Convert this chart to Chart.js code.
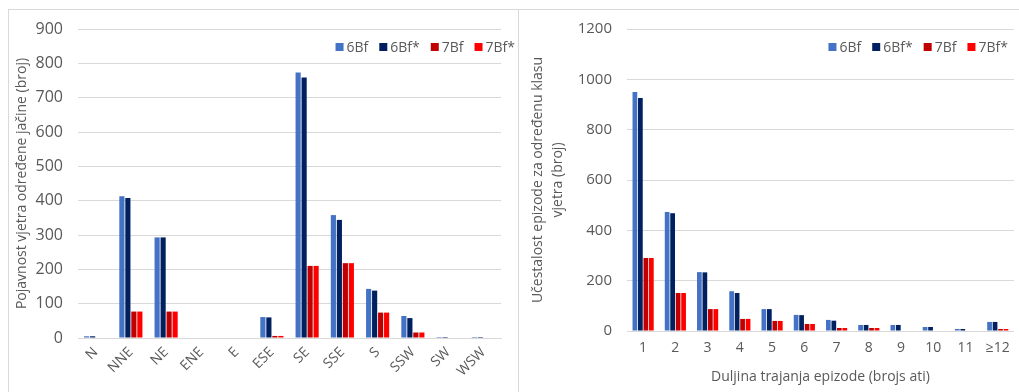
<!DOCTYPE html>
<html>
<head>
<meta charset="utf-8">
<script src="https://cdn.jsdelivr.net/npm/chart.js@4.4.0/dist/chart.umd.min.js"></script>
<style>
  body { margin: 0; background: #fff; width: 1019px; height: 392px; overflow: hidden; position: relative; }
  .okvir { position: absolute; border: 1px solid #d9d9d9; box-sizing: border-box; }
  .kutija { position: absolute; }
</style>
</head>
<body>
<div class="okvir" style="left:8px;top:9px;width:511px;height:420px"></div>
<div class="okvir" style="left:518px;top:9px;width:520px;height:420px"></div>
<div class="kutija" style="left:0;top:0;width:518px;height:392px"><canvas id="smjerChart"></canvas></div>
<div class="kutija" style="left:518px;top:0;width:501px;height:392px"><canvas id="trajanjeChart"></canvas></div>
<script>
// smjer vjetra
const smjerovi = ["N", "NNE", "NE", "ENE", "E", "ESE", "SE", "SSE", "S", "SSW", "SW", "WSW"];
const smjer6Bf = [5, 413, 293, 0, 0, 61, 773, 358, 143, 64, 3, 3];
const smjer6BfZv = [5, 408, 293, 0, 0, 60, 759, 344, 138, 58, 3, 3];
const smjer7Bf = [0, 77, 77, 0, 0, 6, 210, 218, 74, 16, 0, 0];
const smjer7BfZv = [0, 77, 77, 0, 0, 6, 210, 218, 74, 16, 0, 0];

// trajanje epizode (sati)
const trajanja = ["1", "2", "3", "4", "5", "6", "7", "8", "9", "10", "11", "≥12"];
const traj6Bf = [950, 473, 234, 158, 87, 64, 44, 24, 24, 16, 8, 36];
const traj6BfZv = [926, 468, 233, 151, 87, 63, 41, 24, 24, 16, 8, 36];
const traj7Bf = [290, 151, 87, 48, 40, 28, 12, 12, 0, 0, 0, 8];
const traj7BfZv = [290, 151, 87, 48, 40, 28, 12, 12, 0, 0, 0, 8];

const serije = ["6Bf", "6Bf*", "7Bf", "7Bf*"];
const boje = ["#4472C4", "#002060", "#C00000", "#FF0000"];

const SIVA = "#595959";
const FONT = "'Open Sans', sans-serif";

// legenda u stilu Excela, u jednom redu preko vrha grafa
const legendaPlugin = {
  id: "legenda",
  afterDraw(chart, args, opts) {
    const ctx = chart.ctx;
    const area = chart.chartArea;
    ctx.save();
    ctx.font = "14px " + FONT;
    ctx.textBaseline = "middle";
    const stavke = chart.data.datasets.map((ds) => ({
      tekst: ds.label,
      boja: ds.backgroundColor,
      w: ctx.measureText(ds.label).width,
    }));
    const ukupno = stavke.reduce((s, it) => s + 11 + it.w, 0) + opts.gap * (stavke.length - 1);
    let x = area.right + opts.pomak - ukupno;
    const y = area.top + opts.y;
    stavke.forEach((it) => {
      ctx.fillStyle = it.boja;
      ctx.fillRect(x, y - 4, 8, 8);
      ctx.fillStyle = SIVA;
      ctx.fillText(it.tekst, x + 11, y + 1);
      x += 11 + it.w + opts.gap;
    });
    ctx.restore();
  },
};

function crtaj(canvasId, labels, podaci, cfg) {
  const ctx = document.getElementById(canvasId).getContext("2d");
  return new Chart(ctx, {
    type: "bar",
    data: {
      labels: labels,
      datasets: podaci.map((d, i) => ({
        label: serije[i],
        data: d,
        backgroundColor: boje[i],
        borderWidth: 0,
        barPercentage: 0.86,
        categoryPercentage: 0.68,
      })),
    },
    plugins: [legendaPlugin],
    options: {
      responsive: true,
      maintainAspectRatio: false,
      animation: false,
      layout: { padding: cfg.padding },
      plugins: {
        legend: { display: false },
        legenda: cfg.legenda,
        tooltip: { enabled: false },
      },
      scales: {
        x: {
          afterFit: (s) => { s.height = cfg.xHeight; },
          grid: { display: true, drawOnChartArea: false, drawTicks: false },
          border: { display: true, color: "#d9d9d9", width: 1 },
          ticks: {
            color: SIVA,
            padding: cfg.xTickPad,
            maxRotation: cfg.rot,
            minRotation: cfg.rot,
            font: { family: FONT, size: 14 },
          },
          title: {
            display: !!cfg.xTitle,
            text: cfg.xTitle,
            color: SIVA,
            padding: { top: 4, bottom: 7 },
            font: { family: FONT, size: 14 },
          },
        },
        y: {
          min: 0,
          max: cfg.max,
          afterFit: (s) => { s.width = cfg.yWidth; },
          grid: { color: "#d9d9d9", lineWidth: 1, drawTicks: false },
          border: { display: false },
          ticks: {
            stepSize: cfg.step,
            color: SIVA,
            padding: 15,
            font: { family: FONT, size: cfg.yFont },
            callback: (v) => String(v),
          },
          title: {
            display: true,
            text: cfg.yTitle,
            color: SIVA,
            padding: cfg.yTitlePad,
            font: { family: FONT, size: 14, lineHeight: 1.45 },
          },
        },
      },
    },
  });
}

crtaj("smjerChart", smjerovi, [smjer6Bf, smjer6BfZv, smjer7Bf, smjer7BfZv], {
  padding: { top: 29, left: 0, right: 17, bottom: 0 },
  legenda: { gap: 11, pomak: 14, y: 18 },
  xHeight: 54,
  xTickPad: 6,
  rot: 45,
  xTitle: "",
  max: 900,
  step: 100,
  yWidth: 78,
  yFont: 16,
  yTitle: "Pojavnost vjetra određene jačine (broj)",
  yTitlePad: { top: 12, bottom: 0 },
});

crtaj("trajanjeChart", trajanja, [traj6Bf, traj6BfZv, traj7Bf, traj7BfZv], {
  padding: { top: 29, left: 0, right: 5, bottom: 0 },
  legenda: { gap: 11, pomak: -6, y: 18 },
  xHeight: 61,
  xTickPad: 9,
  rot: 0,
  xTitle: "Duljina trajanja epizode (brojs ati)",
  max: 1200,
  step: 200,
  yWidth: 109,
  yFont: 15,
  yTitle: ["Učestalost epizode za određenu klasu", "vjetra (broj)"],
  yTitlePad: { top: 10, bottom: 0 },
});
</script>
</body>
</html>
